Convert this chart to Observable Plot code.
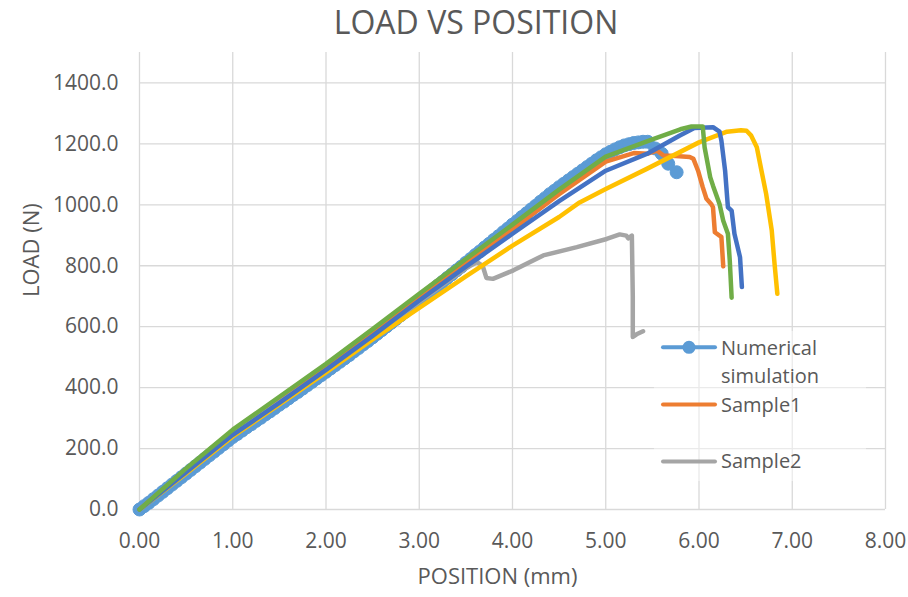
<!DOCTYPE html>
<html><head><meta charset="utf-8">
<script src="https://cdn.jsdelivr.net/npm/d3@7"></script>
<script src="https://cdn.jsdelivr.net/npm/@observablehq/plot@0.6"></script>
<style>
html,body{margin:0;padding:0;background:#fff;}
#wrap{position:relative;width:908px;height:597px;overflow:hidden;font-family:"Open Sans",sans-serif;}
#title{height:44px;line-height:44px;padding-left:44px;text-align:center;font-size:32px;color:#595959;white-space:nowrap;}
#legend{position:absolute;left:650px;top:325px;}
</style></head>
<body><div id="wrap"><div id="title">LOAD VS POSITION</div><div id="chart"></div><div id="legend"></div></div>
<script>
// Tick values / labels
const xTicks = [0,1,2,3,4,5,6,7,8];
const xTickLabels = ["0.00","1.00","2.00","3.00","4.00","5.00","6.00","7.00","8.00"];
const yTicks = [0,200,400,600,800,1000,1200,1400];
const yTickLabels = ["0.0","200.0","400.0","600.0","800.0","1000.0","1200.0","1400.0"];

// Numerical simulation (with markers)
const numX = [0,0.05,0.1,0.15,0.2,0.25,0.3,0.35,0.4,0.45,0.5,0.55,0.6,0.65,0.7,0.75,0.8,0.85,0.9,0.95,
  1.0,1.05,1.1,1.15,1.2,1.25,1.3,1.35,1.4,1.45,1.5,1.55,1.6,1.65,1.7,1.75,1.8,1.85,1.9,1.95,
  2.0,2.05,2.1,2.15,2.2,2.25,2.3,2.35,2.4,2.45,2.5,2.55,2.6,2.65,2.7,2.75,2.8,2.85,2.9,2.95,
  3.0,3.05,3.1,3.15,3.2,3.25,3.3,3.35,3.4,3.45,3.5,3.55,3.6,3.65,3.7,3.75,3.8,3.85,3.9,3.95,
  4.0,4.05,4.1,4.15,4.2,4.25,4.3,4.35,4.4,4.45,4.5,4.55,4.6,4.65,4.7,4.75,4.8,4.85,4.9,4.95,
  5.0,5.05,5.1,5.15,5.2,5.25,5.3,5.35,5.4,5.45,5.53,5.6,5.67,5.76];
const numY = [0,11,22,34,46,58,70,82,94,106,118,130,142,154,166,178,190,202,214,226,
  238,248,259,270,280,291,301,312,322,333,344,354,365,376,386,397,408,419,430,441,
  452,463,474,485,496,507,519,530,542,553,565,577,589,601,613,625,637,649,661,673,
  685,697,710,722,735,747,760,772,785,797,810,822,835,847,860,872,885,897,910,922,
  935,947,960,972,985,997,1010,1022,1035,1046,1058,1069,1080,1091,1102,1113,1124,1135,1146,1156,
  1166,1174,1182,1189,1195,1199,1203,1205,1207,1207,1185,1168,1135,1107];
// Sample1 (orange)
const s1X = [0,0.5,1,1.5,2,2.5,3,3.5,4,4.5,5,5.3,5.45,5.55,5.62,5.75,5.9,5.94,5.99,6.04,6.08,6.13,6.15,6.17,6.22,6.24,6.26];
const s1Y = [0,128,255,362,470,582,697,810,920,1035,1142,1170,1168,1178,1162,1160,1157,1151,1112,1058,1020,1003,992,910,899,895,798];
// Sample2 (gray)
const s2X = [0,0.5,1,1.5,2,2.5,3,3.5,3.62,3.68,3.72,3.79,4.01,4.33,4.69,5.01,5.15,5.22,5.24,5.28,5.29,5.29,5.33,5.4];
const s2Y = [0,122,248,352,456,568,682,792,812,800,760,757,785,834,861,888,903,899,890,899,700,566,575,585];
// Sample3 (yellow)
const s3X = [0,0.5,1,1.5,2,2.5,3,3.5,4,4.5,4.72,5,5.44,6,6.3,6.45,6.51,6.56,6.62,6.67,6.72,6.78,6.81,6.84];
const s3Y = [0,118,240,345,450,558,662,765,866,960,1008,1052,1118,1205,1240,1245,1243,1227,1189,1112,1036,916,807,708];
// Sample4 (dark blue)
const s4X = [0,0.5,1,1.5,2,2.5,3,3.5,4,4.5,5,5.44,5.79,5.95,6.15,6.22,6.24,6.28,6.31,6.35,6.38,6.44,6.46];
const s4Y = [0,122,245,350,458,570,686,797,905,1012,1112,1167,1227,1252,1255,1240,1211,1112,992,981,905,828,730];
// Sample5 (green)
const s5X = [0,0.5,1,1.5,2,2.5,3,3.5,4,4.5,5,5.5,5.8,5.92,6.04,6.06,6.12,6.15,6.22,6.26,6.31,6.33,6.35];
const s5Y = [0,135,262,370,478,592,708,822,935,1050,1158,1215,1248,1257,1257,1189,1091,1063,1003,948,905,817,695];

const colors = ["#5B9BD5","#ED7D31","#A5A5A5","#FFC000","#4472C4","#70AD47"];

const zip = (xs, ys) => xs.map((x, i) => ({x, y: ys[i]}));
const num = zip(numX, numY), s1 = zip(s1X, s1Y), s2 = zip(s2X, s2Y),
      s3 = zip(s3X, s3Y), s4 = zip(s4X, s4Y), s5 = zip(s5X, s5Y);

const lineOpts = (c, w) => ({x: "x", y: "y", stroke: c, strokeWidth: w, strokeLinejoin: "round", strokeLinecap: "round"});
const grid = "#d9d9d9";

const chart = Plot.plot({
  width: 908, height: 553,
  marginLeft: 139, marginRight: 23, marginTop: 8, marginBottom: 88,
  style: {fontFamily: "'Open Sans', sans-serif", fontSize: "21px", color: "#595959", background: "white", overflow: "visible"},
  x: {domain: [0, 8]},
  y: {domain: [0, 1500]},
  marks: [
    Plot.ruleY(yTicks.slice(1), {stroke: grid, strokeWidth: 1.3}),
    Plot.ruleX(xTicks.slice(1), {stroke: grid, strokeWidth: 1.3}),
    Plot.ruleY([0], {stroke: grid, strokeWidth: 1.3}),
    Plot.ruleX([0], {stroke: grid, strokeWidth: 1.3}),
    Plot.line(num, lineOpts(colors[0], 3)),
    Plot.dot(num, {x: "x", y: "y", r: 6.5, fill: colors[0], stroke: colors[0], strokeWidth: 1}),
    Plot.line(s1, lineOpts(colors[1], 4.5)),
    Plot.line(s2, lineOpts(colors[2], 4.5)),
    Plot.line(s3, lineOpts(colors[3], 4.5)),
    Plot.line(s4, lineOpts(colors[4], 4.5)),
    Plot.line(s5, lineOpts(colors[5], 4.5)),
    Plot.axisX(xTicks, {tickSize: 0, tickPadding: 24, label: null, tickFormat: d => xTickLabels[xTicks.indexOf(d)], fontSize: 21}),
    Plot.axisY(yTicks, {tickSize: 0, tickPadding: 21, label: null, tickFormat: d => yTickLabels[yTicks.indexOf(d)], fontSize: 21}),
    Plot.text(["POSITION (mm)"], {frameAnchor: "bottom", dx: -15, dy: 74, fontSize: 22, fill: "#595959"}),
    Plot.text(["LOAD (N)"], {frameAnchor: "left", dx: -108, dy: 16, rotate: -90, fontSize: 22, fill: "#595959"})
  ]
});
document.getElementById("chart").appendChild(chart);

// Legend (only the first three series, as in the original)
const ns = "http://www.w3.org/2000/svg";
const lg = document.createElementNS(ns, "svg");
lg.setAttribute("width", 220); lg.setAttribute("height", 160);
const L = (tag, attrs, text) => { const e = document.createElementNS(ns, tag); for (const k in attrs) e.setAttribute(k, attrs[k]); if (text) e.textContent = text; lg.appendChild(e); return e; };
L("rect", {x: 4, y: 6, width: 212, height: 150, fill: "white", "fill-opacity": 0.45});
const items = [
  {name: ["Numerical", "simulation"], color: colors[0], ly: 22.3, ty: 30, marker: true},
  {name: ["Sample1"], color: colors[1], ly: 79.5, ty: 86.7},
  {name: ["Sample2"], color: colors[2], ly: 136.5, ty: 143.3}
];
for (const it of items) {
  L("line", {x1: 13, x2: 65, y1: it.ly, y2: it.ly, stroke: it.color, "stroke-width": 4, "stroke-linecap": "round"});
  if (it.marker) L("circle", {cx: 39, cy: it.ly, r: 6.5, fill: it.color});
  it.name.forEach((t, j) => L("text", {x: 71, y: it.ty + j * 28.3, "font-family": "'Open Sans', sans-serif", "font-size": 20, fill: "#595959"}, t));
}
document.getElementById("legend").appendChild(lg);
</script>
</body></html>
